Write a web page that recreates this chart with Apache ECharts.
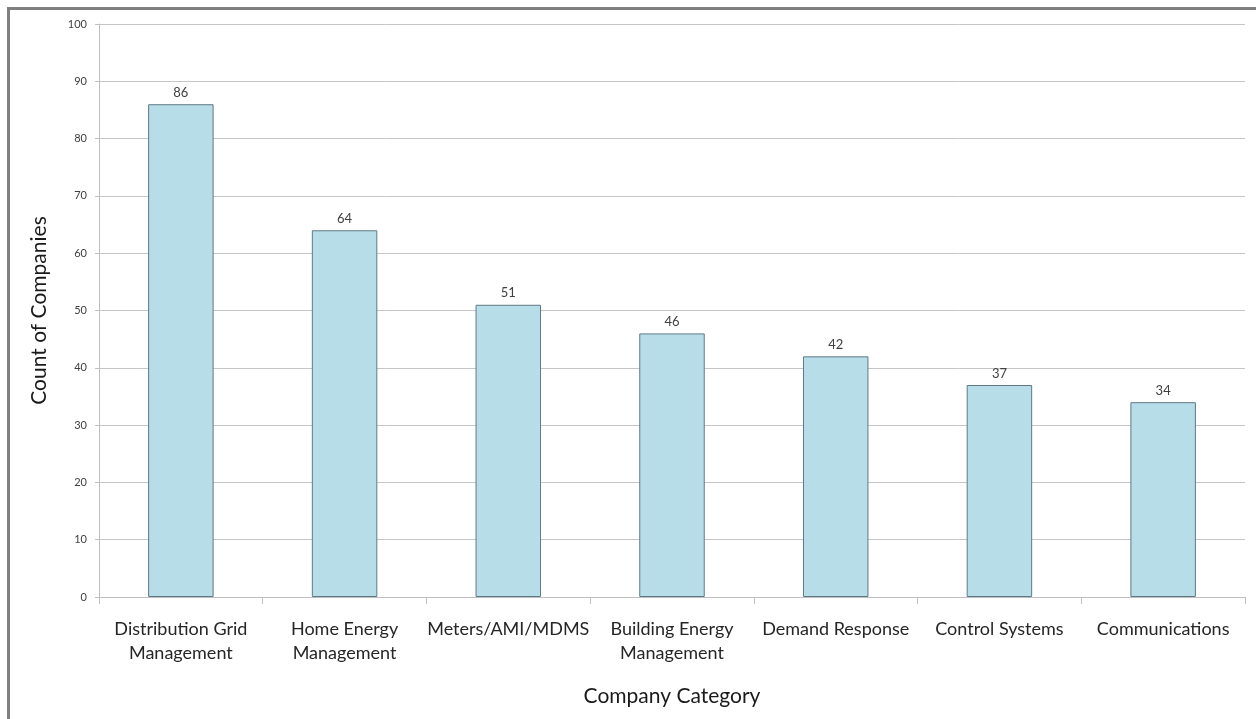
<!DOCTYPE html>
<html>
<head>
<meta charset="utf-8">
<style>
  html, body { margin: 0; padding: 0; background: #ffffff; }
  #frame { position: absolute; left: 7px; top: 7px; width: 1260px; height: 720px;
           border-left: 3px solid #7f7f7f; border-top: 3px solid #7f7f7f; box-sizing: border-box; }
  #chart { position: absolute; left: 0; top: 0; width: 1256px; height: 719px; }
</style>
<script src="https://cdn.jsdelivr.net/npm/echarts@6/dist/echarts.min.js"></script>
</head>
<body>
<div id="frame"></div>
<div id="chart"></div>
<script>
// Company categories and counts
const categories = [
  'Distribution Grid\nManagement',
  'Home Energy\nManagement',
  'Meters/AMI/MDMS',
  'Building Energy\nManagement',
  'Demand Response',
  'Control Systems',
  'Communications'
];
const counts = [86, 64, 51, 46, 42, 37, 34];
const yTicks = { min: 0, max: 100, step: 10 };

const fontFamily = 'Lato, "Open Sans", "Noto Sans", sans-serif';

const chart = echarts.init(document.getElementById('chart'), null, { renderer: 'canvas' });
chart.setOption({
  animation: false,
  backgroundColor: 'transparent',
  grid: { left: 99, right: 11, top: 24, bottom: 122, containLabel: false },
  xAxis: {
    type: 'category',
    data: categories,
    name: 'Company Category',
    nameLocation: 'middle',
    nameGap: 89,
    nameMoveOverlap: false,
    nameTextStyle: { fontFamily, fontSize: 21, color: '#1a1a1a' },
    axisLine: { lineStyle: { color: '#bfbfbf', width: 1 } },
    axisTick: { show: true, length: 7, alignWithLabel: false, lineStyle: { color: '#bfbfbf' } },
    axisLabel: { fontFamily, fontSize: 18, color: '#262626', margin: 20, lineHeight: 24, interval: 0 }
  },
  yAxis: {
    type: 'value',
    min: yTicks.min,
    max: yTicks.max,
    interval: yTicks.step,
    name: 'Count of Companies',
    nameLocation: 'middle',
    nameGap: 49,
    nameMoveOverlap: false,
    nameTextStyle: { fontFamily, fontSize: 21, color: '#1a1a1a' },
    axisLine: { show: true, lineStyle: { color: '#bfbfbf', width: 1 } },
    axisTick: { show: true, length: 4, lineStyle: { color: '#bfbfbf' } },
    axisLabel: { fontFamily, fontSize: 11, color: '#404040', margin: 12 },
    splitLine: { lineStyle: { color: '#c6c6c6', width: 1 } }
  },
  series: [{
    type: 'bar',
    data: counts,
    barWidth: '40%',
    itemStyle: { color: '#b7dde8', borderColor: '#5f7a84', borderWidth: 1 },
    label: {
      show: true,
      position: 'top',
      distance: 5,
      fontFamily,
      fontSize: 13,
      color: '#404040'
    }
  }]
});
</script>
</body>
</html>
